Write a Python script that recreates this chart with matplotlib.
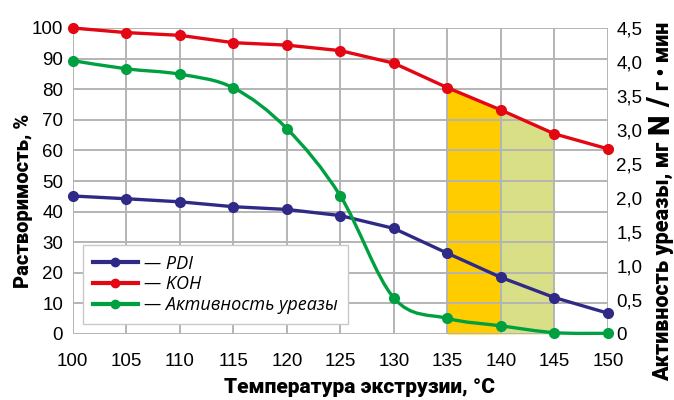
import matplotlib

matplotlib.use("Agg")

import matplotlib.pyplot as plt  # noqa: E402
import numpy as np  # noqa: E402
from matplotlib.lines import Line2D  # noqa: E402
from matplotlib.patches import PathPatch  # noqa: E402
from matplotlib.path import Path  # noqa: E402

# --- Datos ---
temps = [100, 105, 110, 115, 120, 125, 130, 135, 140, 145, 150]
pdi = [45.1, 44.2, 43.2, 41.6, 40.7, 38.7, 34.5, 26.4, 18.5, 11.9, 6.8]
koh = [100.0, 98.5, 97.6, 95.2, 94.4, 92.6, 88.5, 80.5, 73.2, 65.4, 60.5]
urease = [4.02, 3.90, 3.82, 3.62, 3.02, 2.03, 0.53, 0.23, 0.12, 0.02, 0.01]

left_ticks = list(range(0, 101, 10))
right_ticks = [0, 0.5, 1.0, 1.5, 2.0, 2.5, 3.0, 3.5, 4.0, 4.5]
right_labels = ["0", "0,5", "1,0", "1,5", "2,0", "2,5", "3,0", "3,5", "4,0", "4,5"]

band_orange = (135, 140)
band_green = (140, 145)

C_BLUE = "#2e2a86"
C_RED = "#e30613"
C_GREEN = "#00a040"
C_GRID = "#b4b4b4"

TICK_FONT = ["Liberation Sans", "DejaVu Sans"]
LABEL_FONT = ["Roboto", "DejaVu Sans"]
LEGEND_FONT = ["Open Sans", "DejaVu Sans"]


def smooth_path(xs, ys):
    """Curva suave tipo Excel (Bezier con tangentes Catmull-Rom)."""
    p = np.column_stack([xs, ys]).astype(float)
    p_ext = np.vstack([p[0], p, p[-1]])
    verts = [p[0]]
    codes = [Path.MOVETO]
    for i in range(1, len(p_ext) - 2):
        p0, p1, p2, p3 = p_ext[i - 1], p_ext[i], p_ext[i + 1], p_ext[i + 2]
        c1 = p1 + (p2 - p0) / 6.0
        c2 = p2 - (p3 - p1) / 6.0
        verts += [c1, c2, p2]
        codes += [Path.CURVE4] * 3
    return Path(verts, codes)


def vertical_run(fig, x, y_center, pieces, gap_px=5):
    """Texto vertical (abajo→arriba) compuesto por trozos de distinto tamaño."""
    renderer = fig.canvas.get_renderer()
    texts, lengths = [], []
    for s, size in pieces:
        t = fig.text(x, 0, s, rotation=90, rotation_mode="anchor", ha="left",
                     va="baseline", fontsize=size, fontweight="heavy",
                     family=LABEL_FONT)
        texts.append(t)
        lengths.append(t.get_window_extent(renderer).height)
    total = sum(lengths) + gap_px * (len(pieces) - 1)
    y = y_center * fig.bbox.height - total / 2
    for t, ln in zip(texts, lengths):
        t.set_position((x, y / fig.bbox.height))
        y += ln + gap_px


fig = plt.figure(figsize=(6.74, 4.0), dpi=100)
ax = fig.add_axes([0.108, 0.165, 0.794, 0.765])
ax2 = ax.twinx()

# --- Zonas sombreadas bajo la curva KOH ---
t = np.array(temps)
k = np.array(koh)
m1 = (t >= band_orange[0]) & (t <= band_orange[1])
m2 = (t >= band_green[0]) & (t <= band_green[1])
ax.fill_between(t[m1], 0, k[m1], color="#ffcc00", lw=0, zorder=0.3)
ax.fill_between(t[m2], 0, k[m2], color="#d9df86", lw=0, zorder=0.3)

ax.set_axisbelow(True)
ax.grid(True, color=C_GRID, lw=1.4)
ax.set_xlim(100, 150)
ax.set_ylim(0, 100)
ax.set_xticks(temps)
ax.set_yticks(left_ticks)
ax.tick_params(length=0, labelsize=13.5)
ax.tick_params(axis="x", pad=14)
ax.tick_params(axis="y", pad=7)
for lab in ax.get_xticklabels() + ax.get_yticklabels():
    lab.set_family(TICK_FONT)
for s in ax.spines.values():
    s.set_visible(False)

ax.plot(temps, pdi, color=C_BLUE, lw=2.4, marker="o", ms=7, zorder=3, clip_on=False)
ax.plot(temps, koh, color=C_RED, lw=2.4, marker="o", ms=7, zorder=3, clip_on=False)

# --- Actividad de ureasa (eje derecho, curva suavizada) ---
ax2.set_ylim(0, 4.5)
ax2.set_yticks(right_ticks)
ax2.set_yticklabels(right_labels)
ax2.tick_params(length=0, labelsize=13.5, pad=6)
for lab in ax2.get_yticklabels():
    lab.set_family(TICK_FONT)
for s in ax2.spines.values():
    s.set_visible(False)
ax2.add_patch(PathPatch(smooth_path(temps, urease), fill=False, ec=C_GREEN, lw=2.4,
                        zorder=3, clip_on=False))
ax2.plot(temps, urease, ls="none", color=C_GREEN, marker="o", ms=7, zorder=3, clip_on=False)

# --- Etiquetas de ejes ---
fig.text(0.035, 0.497, "Растворимость, %", rotation=90, ha="center", va="center",
         fontsize=14.5, fontweight="heavy", family=LABEL_FONT)
fig.text(0.533, 0.018, "Температура экструзии, °С", ha="center", va="baseline",
         fontsize=15, fontweight="heavy", family=LABEL_FONT)
vertical_run(fig, 0.992, 0.4975,
             [("Активность уреазы, мг", 15.5), ("N", 21), ("/", 21), ("г • мин", 15.5)],
             gap_px=7)

# --- Leyenda ---
handles = [
    Line2D([], [], color=C_BLUE, lw=3, marker="o", ms=6),
    Line2D([], [], color=C_RED, lw=3, marker="o", ms=6),
    Line2D([], [], color=C_GREEN, lw=3, marker="o", ms=6),
]
labels = ["— PDI", "— KOH", "— Активность уреазы"]
leg = ax2.legend(handles, labels, loc="lower left", bbox_to_anchor=(0.123, 0.19),
                 bbox_transform=fig.transFigure, fancybox=False, framealpha=1,
                 edgecolor="#c8c8c8", handlelength=2.5, handletextpad=0.35,
                 labelspacing=0.15, borderpad=0.55, borderaxespad=0,
                 prop={"family": LEGEND_FONT, "style": "italic", "size": 13})
leg.get_frame().set_linewidth(1.0)
leg.set_zorder(5)

fig.savefig("out.png", dpi=100)
plt.close(fig)
